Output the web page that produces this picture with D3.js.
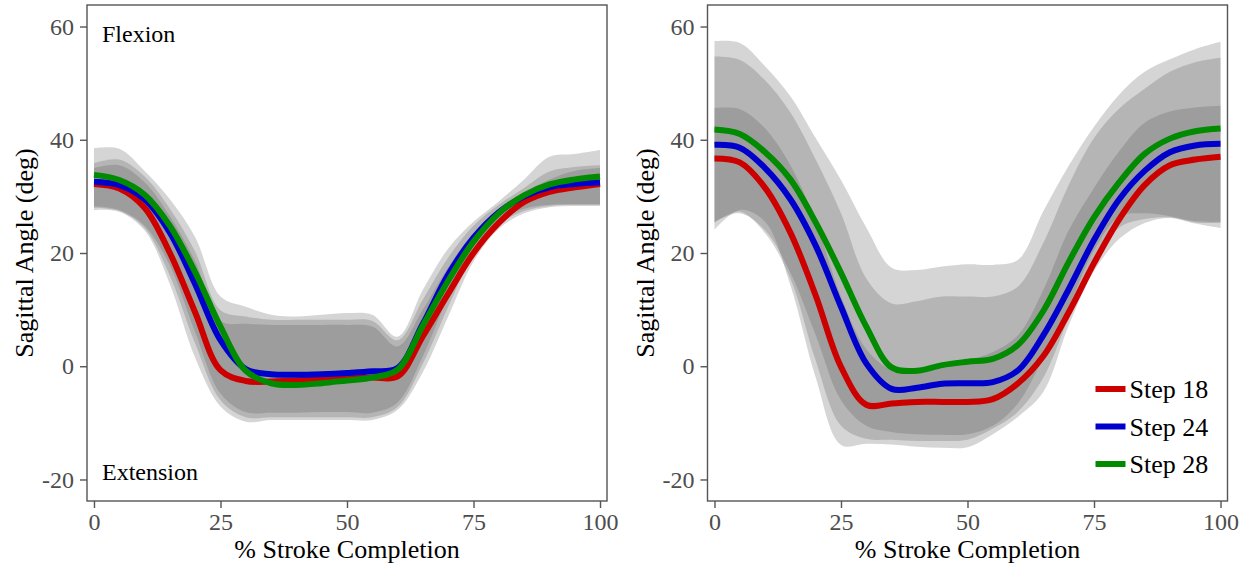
<!DOCTYPE html>
<html>
<head>
<meta charset="utf-8">
<script src="https://cdn.jsdelivr.net/npm/d3@7"></script>
<style>
  body { margin: 0; background: #fff; }
  text { font-family: "Liberation Serif", "Times New Roman", serif; }
</style>
</head>
<body>
<svg id="chart" width="1250" height="569"></svg>
<script>
// ── Data ───────────────────────────────────────────────────────────────────
const pct = [0, 5, 10, 15, 20, 25, 30, 35, 40, 45, 50, 55, 60, 65, 70, 75, 80, 85, 90, 95, 100];

const steps = ["Step 18", "Step 24", "Step 28"];
const stepColors = ["#cd0000", "#0000cd", "#008b00"];

// left panel — mean curves
const leftStep18 = [32.2, 31.4, 28.0, 20.0, 9.5, -0.7, -2.6, -2.7, -2.5, -2.3, -2.1, -2.0, -1.8, 5.3, 12.8, 20.0, 25.3, 29.0, 30.8, 31.6, 32.2];
const leftStep24 = [32.6, 32.0, 29.5, 23.6, 14.5, 4.6, -0.5, -1.4, -1.5, -1.4, -1.2, -0.9, -0.3, 7.5, 16.2, 22.7, 27.2, 30.0, 31.6, 32.2, 32.5];
const leftStep28 = [33.8, 32.9, 30.3, 24.8, 16.6, 7.0, -0.8, -3.0, -3.3, -3.0, -2.5, -2.0, -0.6, 7.2, 15.1, 22.0, 27.0, 30.2, 32.1, 33.0, 33.5];

// left panel — spread bands (outer = covered by 1 ribbon, mid = 2, inner = 3)
const leftOuterHi = [38.5, 38.4, 34.5, 29.5, 22.8, 12.3, 10.5, 9.1, 8.8, 9.1, 9.4, 9.1, 5.2, 13.5, 20.8, 25.5, 29.1, 33.0, 37.0, 37.5, 38.2];
const leftOuterLo = [27.6, 27.3, 24.0, 14.5, 1.5, -7.1, -9.8, -9.5, -9.5, -9.5, -9.5, -9.5, -7.7, -1.0, 8.8, 18.5, 24.3, 27.0, 28.1, 28.3, 28.3];
const leftMidHi   = [35.9, 36.5, 33.5, 27.8, 20.2, 9.9, 8.8, 8.2, 8.2, 8.2, 8.2, 8.0, 4.6, 11.8, 19.2, 24.8, 28.5, 31.5, 34.4, 35.2, 35.5];
const leftMidLo   = [28.0, 27.4, 24.4, 16.0, 4.0, -6.0, -9.0, -9.0, -9.0, -9.0, -9.0, -9.0, -7.2, 0.5, 10.5, 19.8, 25.0, 27.4, 28.3, 28.5, 28.5];
const leftInnerHi = [35.0, 35.5, 32.5, 26.5, 18.5, 8.0, 7.5, 7.3, 7.3, 7.3, 7.3, 7.0, 3.5, 10.0, 17.5, 23.5, 27.5, 30.5, 33.0, 34.5, 35.0];
const leftInnerLo = [28.2, 27.6, 24.8, 17.8, 6.0, -4.8, -8.1, -8.2, -8.2, -8.1, -8.1, -8.2, -6.4, 1.8, 12.3, 21.0, 25.6, 27.8, 28.5, 28.6, 28.6];

// right panel — mean curves
const rightStep18 = [36.7, 36.0, 31.5, 23.6, 12.5, -0.1, -6.8, -6.6, -6.3, -6.3, -6.3, -5.8, -3.0, 1.8, 9.5, 18.2, 26.0, 32.0, 35.5, 36.5, 37.0];
const rightStep24 = [39.1, 38.6, 35.0, 29.5, 21.3, 10.5, 0.5, -4.0, -3.8, -3.1, -3.0, -2.8, -0.7, 5.5, 13.6, 22.3, 29.5, 34.5, 37.8, 39.0, 39.3];
const rightStep28 = [41.8, 41.0, 37.8, 33.0, 25.4, 16.5, 7.0, -0.2, -0.8, 0.2, 0.8, 1.3, 3.8, 9.8, 18.4, 26.3, 32.5, 37.5, 40.2, 41.5, 42.0];

// right panel — spread bands
const rightOuterHi = [57.4, 57.1, 53.0, 47.7, 40.3, 32.9, 24.5, 17.4, 17.0, 17.6, 18.0, 17.9, 18.8, 27.4, 35.4, 42.3, 48.0, 52.0, 54.2, 56.0, 57.3];
const rightOuterLo = [24.1, 27.6, 25.5, 14.3, -2.0, -13.9, -13.7, -13.8, -14.2, -14.4, -14.3, -12.0, -8.9, -4.5, 7.2, 16.8, 22.5, 25.3, 26.2, 25.2, 24.4];
const rightMidHi   = [54.7, 54.1, 50.5, 44.8, 36.5, 27.0, 15.5, 11.1, 11.5, 12.3, 12.3, 12.3, 14.1, 21.8, 32.0, 40.3, 45.5, 49.0, 52.0, 53.7, 54.5];
const rightMidLo   = [25.3, 27.3, 23.5, 15.5, 1.0, -10.5, -12.8, -13.0, -13.2, -13.2, -13.0, -11.0, -8.0, -2.0, 8.5, 18.0, 24.5, 26.0, 26.3, 25.4, 25.3];
const rightInnerHi = [45.6, 45.4, 42.0, 35.5, 25.5, 12.3, 3.0, -0.6, -0.6, -0.2, 1.0, 2.5, 5.5, 13.5, 24.0, 31.5, 38.0, 43.0, 45.0, 45.7, 46.0];
const rightInnerLo = [25.5, 27.0, 24.0, 16.5, 5.5, -6.0, -10.5, -11.6, -12.0, -12.1, -12.0, -10.5, -6.5, 1.5, 10.5, 20.5, 26.4, 27.0, 26.5, 25.6, 25.5];

const xTicks = [0, 25, 50, 75, 100];
const yTicks = [-20, 0, 20, 40, 60];

// ── Layout ─────────────────────────────────────────────────────────────────
const PANEL_W = 520, PANEL_TOP = 5, PANEL_H = 496;
const PANEL_LEFTS = [87, 707.5];
const X_DOMAIN = [-1.38, 101.38];
const Y_DOMAIN = [-23.8, 63.8];

const svg = d3.select("#chart");
const smooth = d3.curveCatmullRom.alpha(0.5);

function drawPanel(left, means, bands, opts) {
  const x = d3.scaleLinear().domain(X_DOMAIN).range([0, PANEL_W]);
  const y = d3.scaleLinear().domain(Y_DOMAIN).range([PANEL_H, 0]);

  const g = svg.append("g").attr("transform", `translate(${left},${PANEL_TOP})`);

  // spread ribbons, stacked translucent grey
  const area = d3.area()
    .x((d, i) => x(pct[i]))
    .y0(d => y(d[0]))
    .y1(d => y(d[1]))
    .curve(smooth);

  bands.forEach(([lo, hi]) => {
    g.append("path")
      .datum(lo.map((v, i) => [v, hi[i]]))
      .attr("fill", "#595959")
      .attr("fill-opacity", 0.25)
      .attr("d", area);
  });

  // mean curves
  const line = d3.line()
    .x((d, i) => x(pct[i]))
    .y(d => y(d))
    .curve(smooth);

  means.forEach((vals, k) => {
    g.append("path")
      .datum(vals)
      .attr("fill", "none")
      .attr("stroke", stepColors[k])
      .attr("stroke-width", 6)
      .attr("d", line);
  });

  // panel border
  g.append("rect")
    .attr("x", 0).attr("y", 0)
    .attr("width", PANEL_W).attr("height", PANEL_H)
    .attr("fill", "none").attr("stroke", "#555").attr("stroke-width", 1.4);

  // axes
  const fmt = d => String(d);   // plain hyphen for negatives, like the source
  const xAxis = g.append("g").attr("transform", `translate(0,${PANEL_H})`)
    .call(d3.axisBottom(x).tickValues(xTicks).tickFormat(fmt).tickSize(7).tickPadding(5));
  const yAxis = g.append("g")
    .call(d3.axisLeft(y).tickValues(yTicks).tickFormat(fmt).tickSize(7).tickPadding(6));

  [xAxis, yAxis].forEach(a => {
    a.select(".domain").remove();
    a.selectAll(".tick line").attr("stroke", "#555").attr("stroke-width", 1.4);
    a.selectAll(".tick text")
      .attr("fill", "#4d4d4d")
      .style("font-size", "24px")
      .style("font-family", '"Liberation Serif", "Times New Roman", serif');
  });

  // axis titles
  g.append("text")
    .attr("x", PANEL_W / 2).attr("y", 553)
    .attr("text-anchor", "middle")
    .style("font-size", "26px")
    .text("% Stroke Completion");

  g.append("text")
    .attr("transform", `translate(-54,${PANEL_H / 2}) rotate(-90)`)
    .attr("text-anchor", "middle")
    .style("font-size", "26px")
    .text("Sagittal Angle (deg)");

  if (opts.annotate) {
    g.append("text").attr("x", 15).attr("y", 37)
      .style("font-size", "24px").text("Flexion");
    g.append("text").attr("x", 15).attr("y", 475)
      .style("font-size", "24px").text("Extension");
  }

  if (opts.legend) {
    const lg = g.append("g").attr("transform", "translate(388,384)");
    steps.forEach((name, k) => {
      const row = lg.append("g").attr("transform", `translate(0,${k * 37.5})`);
      row.append("line")
        .attr("x1", 0).attr("x2", 30).attr("y1", 0).attr("y2", 0)
        .attr("stroke", stepColors[k]).attr("stroke-width", 6);
      row.append("text")
        .attr("x", 34).attr("y", 9)
        .style("font-size", "26px")
        .text(name);
    });
  }
}

drawPanel(PANEL_LEFTS[0],
  [leftStep18, leftStep24, leftStep28],
  [[leftOuterLo, leftOuterHi], [leftMidLo, leftMidHi], [leftInnerLo, leftInnerHi]],
  { annotate: true });

drawPanel(PANEL_LEFTS[1],
  [rightStep18, rightStep24, rightStep28],
  [[rightOuterLo, rightOuterHi], [rightMidLo, rightMidHi], [rightInnerLo, rightInnerHi]],
  { legend: true });
</script>
</body>
</html>
